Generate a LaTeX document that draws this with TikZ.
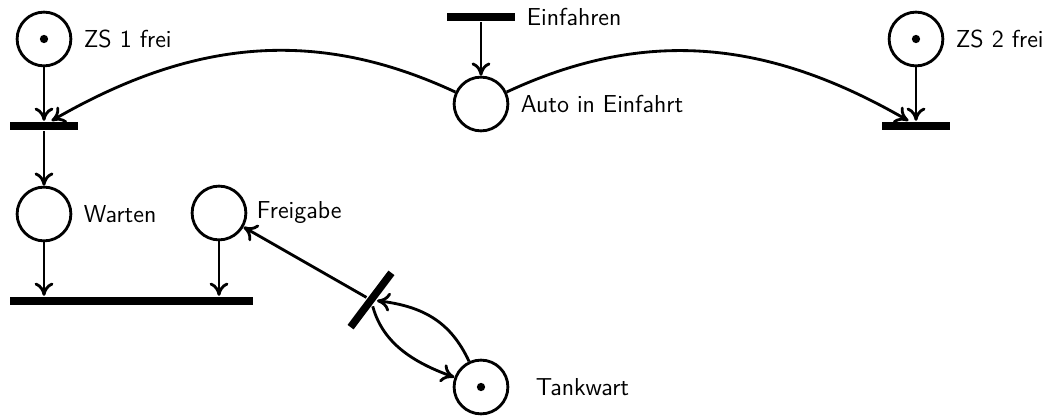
\documentclass[tikz,border=0pt]{standalone}
\usetikzlibrary{arrows.meta}
\renewcommand{\familydefault}{\sfdefault}
\begin{document}
\begin{tikzpicture}[>={To[length=7pt, width=10pt]}, x=0.53pt, y=0.53pt, line width=1.5pt,
    every label/.style={font=\fontsize{13pt}{15pt}\selectfont},
    posto/.style={circle, draw, minimum size=28.5pt, inner sep=0pt},
    transizione/.style={rectangle, fill, minimum width=36pt, minimum height=4pt, inner sep=0pt}]
    \useasboundingbox (0,0) rectangle (1050,419);

    % Posti
    \node[posto, label={[label distance=2pt]right:ZS 1 frei}] (zs1) at (44,380) {};
    \node[posto, label={[label distance=2pt]right:ZS 2 frei}] (zs2) at (916,380) {};
    \node[posto, label={[label distance=2pt]right:Auto in Einfahrt}] (auto) at (481,315) {};
    \node[posto, label={[label distance=2pt]right:Warten}] (warten) at (44,205) {};
    \node[posto, label={[label distance=1pt]right:Freigabe}] (freigabe) at (219,206) {};
    \node[posto, label={[label distance=10pt]right:Tankwart}] (tank) at (481,32) {};

    % Marche
    \fill (zs1) circle (2.2pt);
    \fill (zs2) circle (2.2pt);
    \fill (tank) circle (2.2pt);

    % Transizioni
    \node[transizione, label={[label distance=1.5pt]right:Einfahren}] (einf) at (481,402) {};
    \node[transizione] (t1) at (44,293) {};
    \node[transizione] (t2) at (916,293) {};
    \node[transizione, minimum width=129pt] (tbot) at (131.5,118) {};
    \node[transizione, rotate=53] (ttank) at (371,119) {};

    % Archi
    \draw[->] (einf) -- (auto);
    \draw[->] (zs1) -- (t1);
    \draw[->] (zs2) -- (t2);
    \draw[->] (auto) to[out=155, in=30] ([xshift=4pt]t1.north);
    \draw[->] (auto) to[out=25, in=150] ([xshift=-4pt]t2.north);
    \draw[->] (t1) -- (warten);
    \draw[->] (warten) -- (warten |- tbot.north);
    \draw[->] (freigabe) -- (freigabe |- tbot.north);
    \draw[->] (ttank) -- (freigabe);
    \draw[->] (ttank) to[out=-80, in=160] (tank);
    \draw[->] (tank) to[out=115, in=-20] (ttank);
\end{tikzpicture}
\end{document}
